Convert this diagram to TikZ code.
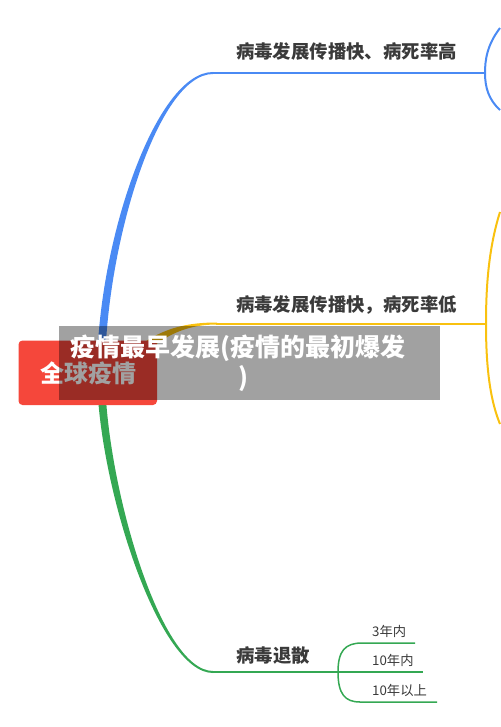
\documentclass[tikz,border=0pt]{standalone}
\usepackage{fontspec}
\setmainfont{Noto Sans CJK SC}
\definecolor{bblue}{HTML}{4A8AF4}
\definecolor{bgreen}{HTML}{34A853}
\definecolor{byellow}{HTML}{F9C10F}
\definecolor{bred}{HTML}{F5473B}
\definecolor{txt}{HTML}{3A3A3A}
\tikzset{
  mainlabel/.style={inner sep=0pt, text=txt, font=\fontsize{18.4}{20}\selectfont\bfseries},
  sublabel/.style={inner sep=0pt, anchor=west, text=txt, font=\fontsize{13.3}{15}\selectfont},
  rootbox/.style={fill=bred, rounded corners=4pt, draw=none},
  overlaybox/.style={fill=black, fill opacity=0.37, draw=none},
  overlaytext/.style={inner sep=0pt, text=white, font=\fontsize{25}{27}\selectfont\bfseries},
  hline/.style={line width=2pt},
  childline/.style={line width=1.5pt, bgreen}
}
\begin{document}
\begin{tikzpicture}[x=1pt,y=-1pt]
\useasboundingbox (0,0) rectangle (500,727);
% named points
\coordinate (root) at (101,373);
\coordinate (bA) at (213,73);
\coordinate (bB) at (485,73);
\coordinate (yA) at (217,323.5);
\coordinate (yB) at (486,323.5);
\coordinate (gA) at (213,672);
\coordinate (gB) at (338,672);
\coordinate (c1) at (415,643);
\coordinate (c2) at (423,672);
\coordinate (c3) at (437,702);
% blue branch (tapered)
\fill[bblue] (97,373) .. controls (97,245) and (155,72) .. (213,72)
  -- (213,74) .. controls (157,74) and (105,249) .. (105,373) -- cycle;
\draw[hline, bblue] ([xshift=-1pt]bA) -- (bB);
\draw[line width=2pt, bblue] (500,28) .. controls (487,45) and (485,60) .. (bB)
  .. controls (485,88) and (489,100) .. (500,110);
% yellow branch (tapered)
\fill[byellow] (118,365) .. controls (150,331) and (180,322.5) .. (217,322.5)
  -- (217,324.5) .. controls (183,324.5) and (156,338) .. (127,372) -- cycle;
\draw[hline, byellow] ([xshift=-1pt]yA) -- (yB);
\draw[line width=2pt, byellow] (500,212) .. controls (488,250) and (486,290) .. (yB)
  .. controls (486,356) and (488,395) .. (500,424);
% green branch (tapered)
\fill[bgreen] (97,373) .. controls (97,478) and (157,673) .. (213,673)
  -- (213,671) .. controls (159,671) and (105,478) .. (105,373) -- cycle;
\draw[hline, bgreen] ([xshift=-1pt]gA) -- (gB);
\draw[childline] (gB) .. controls (338,651) and (345,643) .. (362,643) -- (c1);
\draw[childline] (gB) -- (c2);
\draw[childline] (gB) .. controls (338,694) and (345,702) .. (360,702) -- (c3);
% labels
\node[mainlabel] (l1) at (346.5,52) {病毒发展传播快、病死率高};
\node[mainlabel] (l2) at (346.5,305) {病毒发展传播快，病死率低};
\node[mainlabel] (l3) at (273,655) {病毒退散};
\node[sublabel] (s1) at (372,631) {3年内};
\node[sublabel] (s2) at (372,660) {10年内};
\node[sublabel] (s3) at (372,690) {10年以上};
% root
\fill[rootbox] (18.5,340.5) rectangle (157,405) coordinate (rootbox);
\node[inner sep=0pt, text=white, font=\fontsize{24}{26}\selectfont\bfseries] (rootlabel) at (88.5,373) {全球疫情};
% overlay
\fill[overlaybox] (59,326) rectangle (440,399.5);
\node[overlaytext] (o1) at (237.5,348) {疫情最早发展(疫情的最初爆发};
\node[overlaytext] (o2) at (243,379) {)};
\end{tikzpicture}
\end{document}
